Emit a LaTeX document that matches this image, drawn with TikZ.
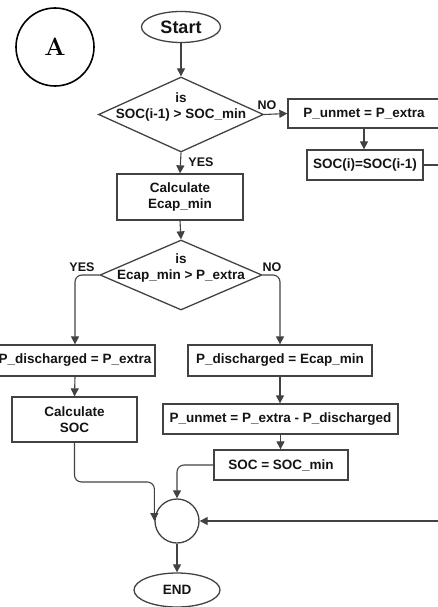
\documentclass[tikz,border=0pt]{standalone}
\usepackage{fontspec}
\usetikzlibrary{shapes.geometric,arrows.meta}
\newfontfamily\flowfont{Liberation Sans}
\definecolor{lc}{RGB}{66,66,66}
\definecolor{tc}{RGB}{20,20,20}
\tikzset{
  txt/.style={font=\flowfont\bfseries\fontsize{13.5}{16}\selectfont, text=tc, align=center, inner sep=0pt},
  procbox/.style={txt, draw=lc, line width=1.3pt, rectangle},
  decision/.style={draw=lc, line width=1.3pt, diamond, inner sep=0pt},
  term/.style={txt, draw=lc, line width=1.3pt, ellipse, inner sep=0pt},
  tag/.style={font=\flowfont\bfseries\fontsize{12.5}{14}\selectfont, text=tc, inner sep=0pt},
  flow/.style={draw=lc, line width=1.1pt, -{Triangle[length=8pt,width=8pt]}},
}
\begin{document}
\begin{tikzpicture}[x=1pt,y=-1pt]
\useasboundingbox (0,0) rectangle (438,607);
\clip (0,0) rectangle (438,607);

% panel mark
\node[circle, draw=black, line width=1.6pt, minimum size=78pt, inner sep=0pt,
      font=\bfseries\fontsize{25}{27}\selectfont] (mark) at (55,47) {A};

% terminals
\node[term, minimum width=79pt, minimum height=31pt, font=\flowfont\bfseries\fontsize{18}{20}\selectfont] (start) at (181,27) {Start};
\node[term, minimum width=86pt, minimum height=34pt, font=\flowfont\bfseries\fontsize{13.5}{16}\selectfont] (endn) at (177,590) {END};

% first decision
\node[decision, minimum width=165pt, minimum height=75pt] (d1) at (181,114.5) {};
\node[txt] (d1t) at (181,107) {is\\SOC(i-1) > SOC\_min};

% branch when the state of charge is too low
\node[procbox, minimum width=152pt, minimum height=29pt] (unmet1) at (364,113.5) {P\_unmet = P\_extra};
\node[procbox, minimum width=116pt, minimum height=30pt] (soc1) at (365,165) {SOC(i)=SOC(i-1)};

% main path
\node[procbox, minimum width=126pt, minimum height=46pt] (calcE) at (180,197) {Calculate\\Ecap\_min};
\node[decision, minimum width=162pt, minimum height=70pt] (d2) at (181,275) {};
\node[txt] (d2t) at (181,268) {is\\Ecap\_min > P\_extra};

\node[procbox, minimum width=160pt, minimum height=31pt] (pd1) at (75,360.5) {P\_discharged = P\_extra};
\node[procbox, minimum width=125pt, minimum height=45pt] (calcS) at (74.5,419.5) {Calculate\\SOC};

\node[procbox, minimum width=184pt, minimum height=31pt] (pd2) at (280,360.5) {P\_discharged = Ecap\_min};
\node[procbox, minimum width=235pt, minimum height=30pt] (unmet2) at (280.5,419) {P\_unmet = P\_extra - P\_discharged};
\node[procbox, minimum width=134pt, minimum height=30pt] (socmin) at (281,465) {SOC = SOC\_min};

% junction
\node[circle, draw=lc, line width=1.3pt, minimum size=44pt, inner sep=0pt] (join) at (177,521) {};

% branch labels
\node[tag] (no1) at (267,105) {NO};
\node[tag] (yes1) at (201,162) {YES};
\node[tag] (yes2) at (82,267) {YES};
\node[tag] (no2) at (272,267) {NO};

% connectors
\draw[flow] (start) -- (d1);
\draw[flow] (d1.east) -- (unmet1.west);
\draw[flow] (unmet1.south) -- (unmet1.south |- soc1.north);
\draw[flow] (soc1.east) -- (470,165) |- (join.east);
\draw[flow] (d1.south) -- (calcE.north);
\draw[flow] (calcE.south) -- (d2.north);
\draw[flow, rounded corners=7pt] (d2.west) -| (pd1.north);
\draw[flow, rounded corners=7pt] (d2.east) -| (pd2.north);
\draw[flow] (pd1.south) -- (calcS.north);
\draw[flow] (pd2.south) -- (pd2.south |- unmet2.north);
\draw[flow] (unmet2.south) -- (unmet2.south |- socmin.north);
\draw[flow, rounded corners=7pt] (socmin.west) -| (join.north);
\draw[flow, rounded corners=7pt] (calcS.south) -- (calcS.south |- 0,482) -- (join.west |- 0,482) -- (join.west);
\draw[flow] (join.south) -- (endn.north);
\end{tikzpicture}
\end{document}
